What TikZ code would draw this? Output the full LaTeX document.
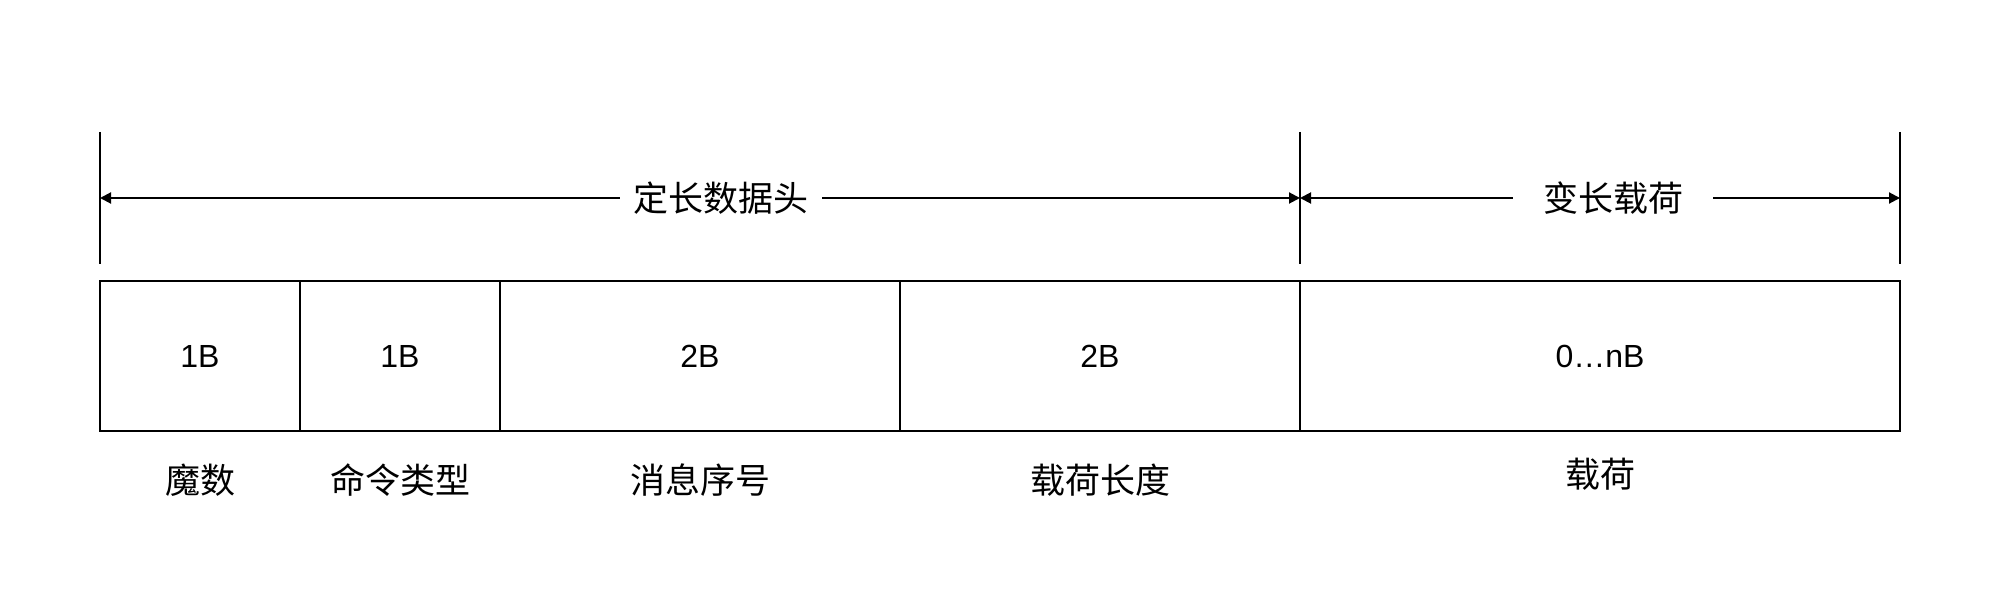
\documentclass[tikz,border=0pt]{standalone}
\usepackage{fontspec}
\setmainfont{Liberation Sans}
\newfontfamily\cjk{Noto Sans CJK SC}
\usetikzlibrary{arrows.meta}
\begin{document}
\begin{tikzpicture}[x=1pt,y=-1pt,
  cell/.style={draw, line width=2pt, minimum height=150pt, inner sep=0pt, font=\fontsize{32}{36}\selectfont},
  lbl/.style={font=\cjk\fontsize{35}{40}\selectfont, inner sep=0pt},
  tickline/.style={line width=2pt},
  dimline/.style={line width=2pt, {Triangle[length=11pt,width=11pt]}-{Triangle[length=11pt,width=11pt]}},
  spanlbl/.style={fill=white, font=\cjk\fontsize{35}{40}\selectfont, inner sep=0pt, minimum height=36pt}]
\useasboundingbox (0,0) rectangle (2008,612);
% ticks
\coordinate (t0a) at (100,132); \coordinate (t0b) at (100,264);
\coordinate (t1a) at (1300,132); \coordinate (t1b) at (1300,264);
\coordinate (t2a) at (1900,132); \coordinate (t2b) at (1900,264);
\draw[tickline] (t0a) -- (t0b);
\draw[tickline] (t1a) -- (t1b);
\draw[tickline] (t2a) -- (t2b);
% dimension arrows
\coordinate (d0) at (100,198); \coordinate (d1) at (1300,198); \coordinate (d2) at (1900,198);
\draw[dimline] (d0) -- (d1);
\draw[dimline] (d1) -- (d2);
\node[spanlbl, minimum width=202pt] (hdr) at (721,198) {定长数据头};
\node[spanlbl, minimum width=200pt] (var) at (1613,198) {变长载荷};
% cells
\node[cell, minimum width=200pt] (c1) at (200,356) {1B};
\node[cell, minimum width=200pt] (c2) at (400,356) {1B};
\node[cell, minimum width=400pt] (c3) at (700,356) {2B};
\node[cell, minimum width=400pt] (c4) at (1100,356) {2B};
\node[cell, minimum width=600pt] (c5) at (1600,356) {0…nB};
% labels
\node[lbl] (l1) at (200,480) {魔数};
\node[lbl] (l2) at (400,480) {命令类型};
\node[lbl] (l3) at (700,480) {消息序号};
\node[lbl] (l4) at (1100,480) {载荷长度};
\node[lbl] (l5) at (1600,474) {载荷};
\end{tikzpicture}
\end{document}
